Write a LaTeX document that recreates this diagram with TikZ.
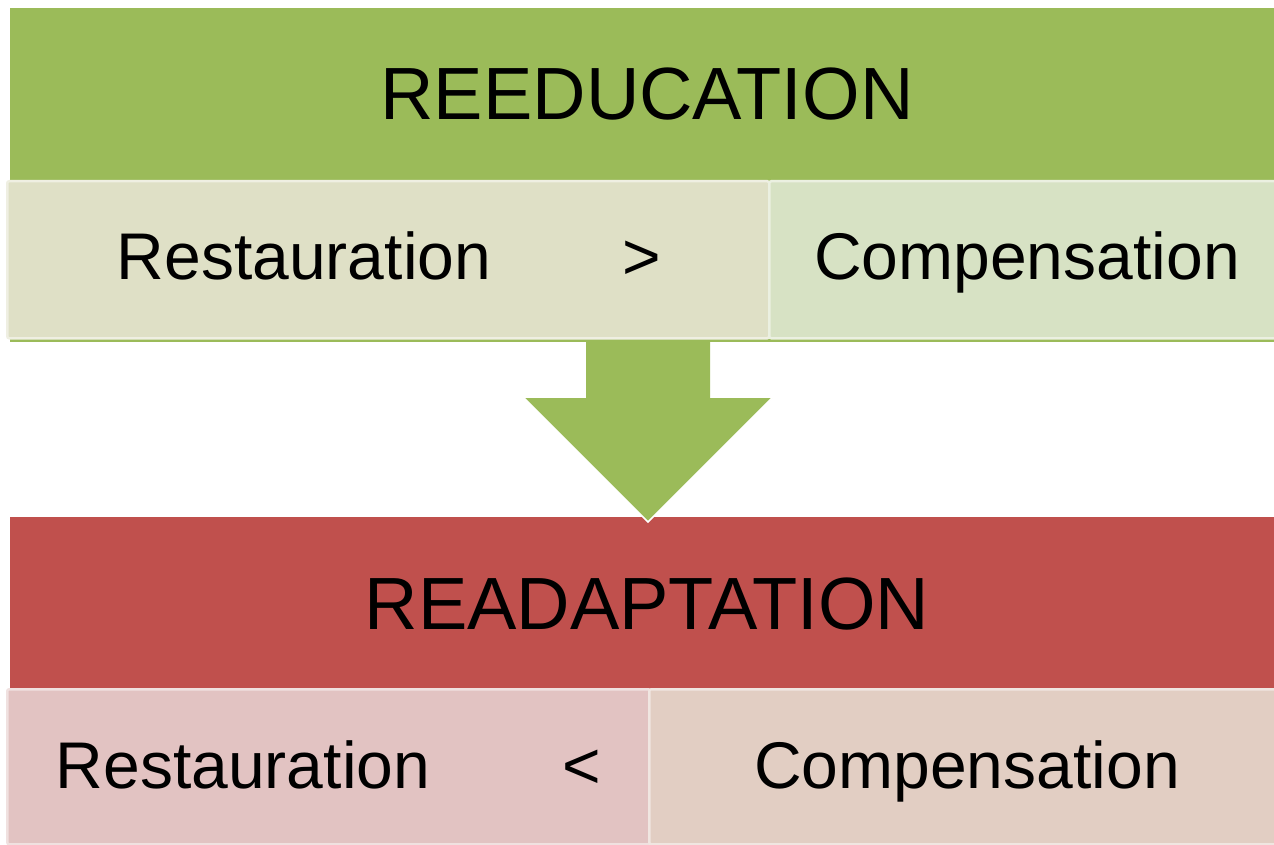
\documentclass[tikz,border=0pt]{standalone}
\usepackage{fontspec}
\setmainfont{Liberation Sans}
\definecolor{greenbar}{HTML}{9BBB59}
\definecolor{greenleft}{HTML}{DFE0C6}
\definecolor{greenright}{HTML}{D7E2C4}
\definecolor{redbar}{HTML}{C0504D}
\definecolor{redleft}{HTML}{E2C3C2}
\definecolor{redright}{HTML}{E2CEC3}
\begin{document}
\begin{tikzpicture}[x=1pt,y=-1pt,
    bar/.style={anchor=north west,inner sep=0pt,minimum width=1264pt},
    part/.style={anchor=north west,inner sep=0pt,line width=2.5pt,rounded corners=2pt},
    big/.style={anchor=base,font=\fontsize{74}{80}\selectfont},
    small/.style={anchor=base,font=\fontsize{66}{72}\selectfont}]
    \useasboundingbox (0,0) rectangle (1274,845);
    % upper block
    \node[bar,fill=greenbar,minimum height=334pt] (reeducation) at (10,8) {};
    \node[part,fill=greenleft,draw=greenleft!50!white,minimum width=762pt,minimum height=157pt] (upleft) at (6,180) {};
    \node[part,fill=greenright,draw=greenright!50!white,minimum width=510pt,minimum height=157pt] (upright) at (768,180) {};
    \node[big] at (647,120) {REEDUCATION};
    \node[small] at (304,279) {Restauration};
    \node[small] at (642,279) {>};
    \node[small] at (1027,279) {Compensation};
    % lower block
    \node[bar,fill=redbar,minimum height=328pt] (readaptation) at (10,517) {};
    \node[part,fill=redleft,draw=redleft!50!white,minimum width=643pt,minimum height=155pt] (lowleft) at (6,688) {};
    \node[part,fill=redright,draw=redright!50!white,minimum width=630pt,minimum height=155pt] (lowright) at (648,688) {};
    \node[big] at (647,629) {READAPTATION};
    \node[small] at (243,788) {Restauration};
    \node[small] at (582,788) {<};
    \node[small] at (967,788) {Compensation};
    % block arrow
    \fill[greenbar] (586,342) -- (710,342) -- (710,398) -- (772,398) -- (648,522)
        -- (524,398) -- (586,398) -- cycle;
    \draw[white,line width=1.5pt] (772,398) -- (648,522) -- (524,398);
\end{tikzpicture}
\end{document}
